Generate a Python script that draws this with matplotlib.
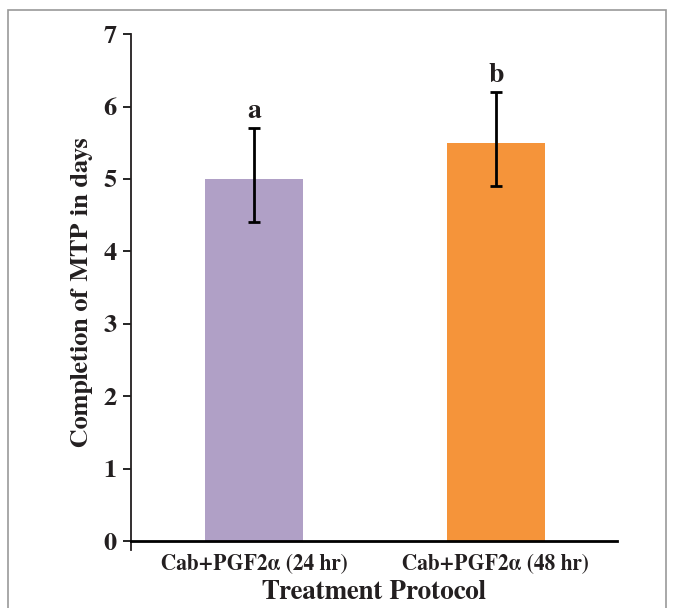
import matplotlib
matplotlib.use("Agg")
import matplotlib.pyplot as plt
import numpy as np
from matplotlib.patches import Rectangle

plt.rcParams['font.family'] = ['FreeSerif', 'Liberation Serif', 'DejaVu Serif']
plt.rcParams['font.weight'] = 'bold'

groups = ['Cab+PGF2\u03b1 (24 hr)', 'Cab+PGF2\u03b1 (48 hr)']
means = [5.0, 5.5]
err_low = [0.6, 0.6]
err_high = [0.7, 0.7]
letters = ['a', 'b']
colors = ['#B0A0C6', '#F5943A']

fig = plt.figure(figsize=(6.74, 6.08), dpi=100)
ax = fig.add_axes([0.194, 0.0954, 0.721, 0.8486])

x = np.arange(len(groups))
ax.bar(x, means, width=0.405, color=colors, zorder=2)
ax.errorbar(x, means, yerr=[err_low, err_high], fmt='none', ecolor='black',
            elinewidth=2, capsize=4.5, capthick=2, zorder=3)
for xi, m, hi, lab in zip(x, means, err_high, letters):
    ax.text(xi, m + hi + 0.06, lab, ha='center', va='bottom', fontsize=20,
            fontweight='bold', color='#231f20')

ax.set_xlim(-0.51, 1.5)
ax.set_ylim(-0.12, 7)
ax.tick_params(axis='x', length=0, pad=9, labelsize=15.5, labelcolor='#231f20')
ax.tick_params(axis='y', direction='out', length=6, width=1.2, labelsize=19,
               labelcolor='#231f20', pad=4)
ax.set_yticks(range(0, 8))
ax.set_xticks(x)
ax.set_xticklabels(groups, fontsize=15.5, fontweight='bold')
for t in ax.get_yticklabels():
    t.set_fontweight('bold')

ax.spines['top'].set_visible(False)
ax.spines['right'].set_visible(False)
ax.spines['bottom'].set_position(('data', 0))
ax.spines['bottom'].set_linewidth(2)
ax.spines['bottom'].set_zorder(4)
ax.spines['left'].set_linewidth(1.3)
ax.spines['left'].set_color('#231f20')

ax.set_ylabel('Completion of MTP in days', fontsize=19, fontweight='bold',
              color='#231f20', labelpad=8)
ax.set_xlabel('Treatment Protocol', fontsize=19.5, fontweight='bold',
              color='#231f20', labelpad=4)

fig.patches.append(Rectangle((8 / 674, -0.01), 658 / 674, 1 - 10 / 608 + 0.01,
                             transform=fig.transFigure, fill=False,
                             edgecolor='#999999', linewidth=1.2))

fig.savefig('out.png', dpi=100)
